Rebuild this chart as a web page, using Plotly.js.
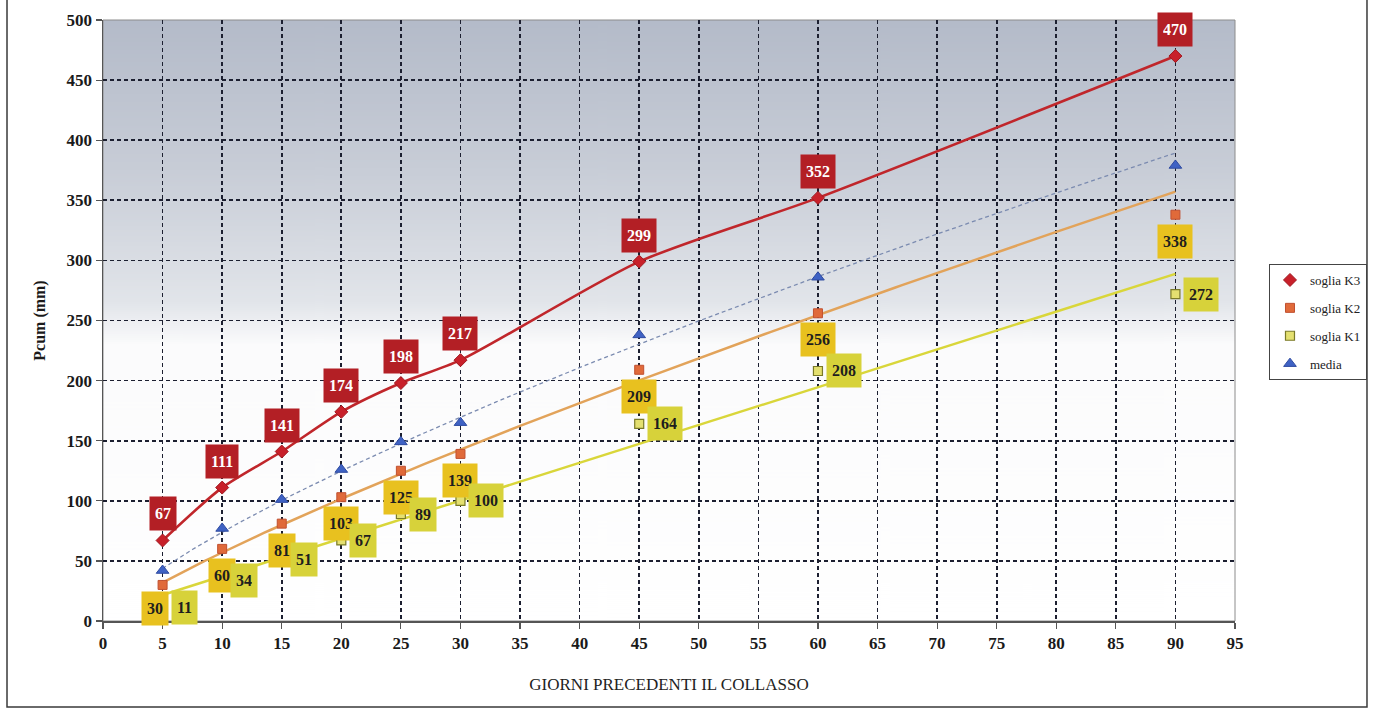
<!DOCTYPE html>
<html>
<head>
<meta charset="utf-8">
<script src="https://cdn.plot.ly/plotly-3.0.1.min.js"></script>
<style>
  html, body { margin: 0; padding: 0; background: #ffffff; }
  #chart { width: 1373px; height: 711px; }
</style>
</head>
<body>
<div id="chart"></div>
<script>
// Days before the collapse and cumulative rainfall thresholds (mm)
const days   = [5, 10, 15, 20, 25, 30, 45, 60, 90];
const sogliaK3 = [67, 111, 141, 174, 198, 217, 299, 352, 470];
const sogliaK2 = [30, 60, 81, 103, 125, 139, 209, 256, 338];
const sogliaK1 = [11, 34, 51, 67, 89, 100, 164, 208, 272];
const media    = [42, 77, 101, 126, 149, 165, 238, 286, 379];

const xTickVals = [0, 5, 10, 15, 20, 25, 30, 35, 40, 45, 50, 55, 60, 65, 70, 75, 80, 85, 90, 95];
const yTickVals = [0, 50, 100, 150, 200, 250, 300, 350, 400, 450, 500];

const serif = '"Liberation Serif", "Times New Roman", serif';

// Least-squares fits used for the trend lines
function linearFit(x, y) {
  const n = x.length;
  const mx = x.reduce((a, b) => a + b, 0) / n;
  const my = y.reduce((a, b) => a + b, 0) / n;
  let sxy = 0, sxx = 0;
  for (let i = 0; i < n; i++) { sxy += (x[i] - mx) * (y[i] - my); sxx += (x[i] - mx) ** 2; }
  const m = sxy / sxx, q = my - m * mx;
  return v => q + m * v;
}
function powerFit(x, y) {
  const lx = x.map(Math.log), ly = y.map(Math.log);
  const f = linearFit(lx, ly);
  return v => Math.exp(f(Math.log(v)));
}
function trend(fn) {
  const xs = [];
  for (let v = days[0]; v <= days[days.length - 1] + 1e-9; v += 0.5) xs.push(v);
  return { x: xs, y: xs.map(fn) };
}

const tK2 = trend(powerFit(days, sogliaK2));
const tK1 = trend(linearFit(days, sogliaK1));
const tMedia = trend(powerFit(days, media));

// Vertical background gradient for the plot area
function gradientURL() {
  const c = document.createElement('canvas');
  c.width = 8; c.height = 600;
  const g = c.getContext('2d');
  const grd = g.createLinearGradient(0, 0, 0, 600);
  grd.addColorStop(0, '#b4bbc9');
  grd.addColorStop(0.25, '#c8cdd7');
  grd.addColorStop(0.47, '#e2e5ea');
  grd.addColorStop(0.54, '#fbfbfc');
  grd.addColorStop(1, '#ffffff');
  g.fillStyle = grd;
  g.fillRect(0, 0, 8, 600);
  return c.toDataURL('image/png');
}

const traces = [
  { x: tK1.x, y: tK1.y, mode: 'lines', line: { color: '#d9d63a', width: 2.5 }, showlegend: false, hoverinfo: 'skip' },
  { x: tK2.x, y: tK2.y, mode: 'lines', line: { color: '#e2a35a', width: 2.5 }, showlegend: false, hoverinfo: 'skip' },
  { x: tMedia.x, y: tMedia.y, mode: 'lines', line: { color: '#7b8bb0', width: 1.3, dash: '4px,3px' }, showlegend: false, hoverinfo: 'skip' },
  { x: days, y: sogliaK3, mode: 'lines', line: { color: '#c0262b', width: 2.6, shape: 'spline', smoothing: 0.7 }, showlegend: false, hoverinfo: 'skip' },
  { x: days, y: sogliaK3, mode: 'markers', name: 'soglia K3', legendgroup: 'a',
    marker: { symbol: 'diamond', size: 10, color: '#c8202a', line: { color: '#a01820', width: 1 } } },
  { x: days, y: sogliaK2, mode: 'markers', name: 'soglia K2', legendgroup: 'b',
    marker: { symbol: 'square', size: 9, color: '#e06a3a', line: { color: '#c05030', width: 1 } } },
  { x: days, y: sogliaK1, mode: 'markers', name: 'soglia K1', legendgroup: 'c',
    marker: { symbol: 'square', size: 9, color: '#e4e070', line: { color: '#7a7a28', width: 1.2 } } },
  { x: days, y: media, mode: 'markers', name: 'media', legendgroup: 'd',
    marker: { symbol: 'triangle-up', size: 11, color: '#3f62c4', line: { color: '#2e4aa0', width: 1 } } }
];

// Value labels
const annotations = [];
const labelFont = (c) => ({ family: serif, size: 16, color: c });
days.forEach((d, i) => {
  annotations.push({ x: d, y: sogliaK3[i], text: '<b>' + sogliaK3[i] + '</b>', showarrow: false,
    yanchor: 'bottom', yshift: 9, bgcolor: '#b31f25', borderpad: 5, height: 23, font: labelFont('#ffffff') });
  annotations.push({ x: d, y: sogliaK2[i], text: '<b>' + sogliaK2[i] + '</b>', showarrow: false,
    yanchor: 'top', yshift: i === 0 ? -6 : -9, xshift: i === 0 ? -8 : 0,
    bgcolor: '#e8c11f', borderpad: 5, height: 23, font: labelFont('#1e1e1e') });
  annotations.push({ x: d, y: sogliaK1[i], text: '<b>' + sogliaK1[i] + '</b>', showarrow: false,
    xanchor: 'left', xshift: 8, bgcolor: '#d7d23a', borderpad: 5, height: 23, font: labelFont('#1e1e1e') });
});

const axisCommon = {
  showline: true, linecolor: '#555555', linewidth: 1.5,
  ticks: 'outside', ticklen: 6, tickcolor: '#555555', tickwidth: 1.2,
  showgrid: true, gridcolor: '#1c1f30', gridwidth: 1.7, griddash: '4px,3px',
  zeroline: false, fixedrange: true, automargin: false,
  tickfont: { family: serif, size: 17, color: '#1a1a1a', weight: 'bold' }
};

const layout = {
  width: 1373, height: 711,
  margin: { l: 103, r: 138, t: 20, b: 90, autoexpand: false },
  paper_bgcolor: '#ffffff',
  plot_bgcolor: 'rgba(0,0,0,0)',
  showlegend: true,
  legend: {
    x: 1.1166, y: 0.594, xanchor: 'right', yanchor: 'top',
    bgcolor: '#ffffff', bordercolor: '#444444', borderwidth: 1,
    font: { family: serif, size: 13, color: '#222222' },
    tracegroupgap: 8, itemwidth: 30
  },
  xaxis: Object.assign({}, axisCommon, {
    range: [0, 95], tickvals: xTickVals,
    title: { text: 'GIORNI PRECEDENTI IL COLLASSO', font: { family: serif, size: 17, color: '#222222' }, standoff: 26 }
  }),
  yaxis: Object.assign({}, axisCommon, {
    range: [0, 500], tickvals: yTickVals,
    title: { text: 'Pcum (mm)', font: { family: serif, size: 16, color: '#1a1a1a', weight: 'bold' }, standoff: 17 }
  }),
  images: [{
    source: gradientURL(), xref: 'paper', yref: 'paper', x: 0, y: 1, sizex: 1, sizey: 1,
    xanchor: 'left', yanchor: 'top', sizing: 'stretch', layer: 'below'
  }],
  shapes: [
    { type: 'rect', xref: 'paper', yref: 'paper', x0: 0, x1: 1, y0: 0, y1: 1,
      line: { color: '#8c8c8c', width: 1 }, layer: 'below' },
    { type: 'rect', xref: 'paper', yref: 'paper', x0: -0.0848, x1: 1.1166, y0: -0.1431, y1: 1.06,
      line: { color: '#3a3a3a', width: 1.5 }, fillcolor: 'rgba(0,0,0,0)' }
  ],
  annotations: annotations
};

Plotly.newPlot('chart', traces, layout, { displayModeBar: false, staticPlot: true });
</script>
</body>
</html>
